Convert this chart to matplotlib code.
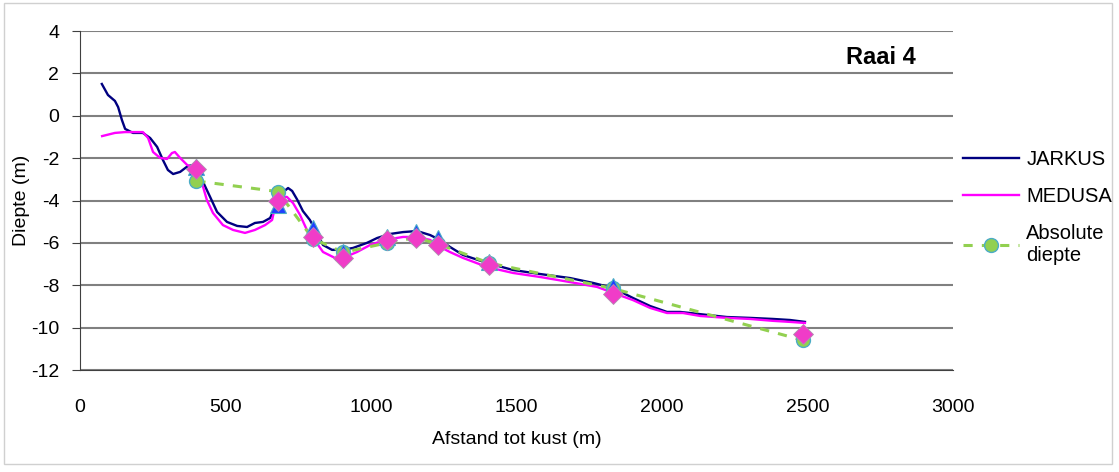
import matplotlib
matplotlib.use("Agg")
import matplotlib.pyplot as plt
from matplotlib.patches import Rectangle

plt.rcParams['font.family'] = ['Liberation Sans', 'DejaVu Sans']
plt.rcParams['axes.unicode_minus'] = False

# JARKUS profile (m from coast, depth m)
jarkus_x = [75, 96, 120, 131, 144, 155, 182, 216, 241, 265, 285, 302, 320, 344, 371, 395,
            423, 447, 471, 505, 540, 574, 601, 629, 653, 670, 680, 698, 715, 729, 746, 766,
            790, 814, 835, 866, 900, 938, 986, 1021, 1065, 1110, 1158, 1203, 1237, 1271,
            1316, 1399, 1488, 1581, 1684, 1763, 1832, 1900, 1959, 2017, 2062, 2096, 2155,
            2223, 2302, 2381, 2440, 2491]
jarkus_y = [1.5, 0.98, 0.70, 0.41, -0.2, -0.62, -0.81, -0.81, -1.05, -1.47, -2.09, -2.56,
            -2.75, -2.65, -2.37, -2.32, -3.13, -3.83, -4.54, -5.01, -5.2, -5.25, -5.06,
            -5.01, -4.83, -4.35, -3.88, -3.6, -3.41, -3.55, -3.95, -4.5, -4.92, -5.53,
            -6.1, -6.33, -6.33, -6.24, -6.0, -5.77, -5.58, -5.49, -5.44, -5.63, -5.86,
            -6.19, -6.57, -6.95, -7.28, -7.47, -7.66, -7.89, -8.13, -8.6, -8.98, -9.26,
            -9.26, -9.31, -9.4, -9.5, -9.54, -9.59, -9.64, -9.73]

# MEDUSA profile
medusa_x = [76, 120, 155, 216, 234, 251, 275, 299, 316, 326, 344, 368, 388, 402, 419, 436,
            457, 491, 526, 567, 601, 636, 660, 670, 687, 711, 732, 756, 780, 801, 835, 876,
            904, 952, 997, 1048, 1110, 1158, 1203, 1237, 1271, 1316, 1399, 1488, 1581,
            1684, 1777, 1832, 1900, 1959, 2017, 2072, 2131, 2223, 2302, 2381, 2440, 2491]
medusa_y = [-0.96, -0.81, -0.77, -0.77, -1.05, -1.71, -1.99, -2.04, -1.76, -1.71, -1.99,
            -2.32, -2.47, -2.5, -3.17, -3.98, -4.59, -5.16, -5.39, -5.53, -5.39, -5.16,
            -4.92, -4.31, -3.83, -3.83, -4.12, -4.68, -5.4, -5.77, -6.43, -6.71, -6.71,
            -6.43, -6.1, -5.86, -5.72, -5.72, -5.86, -6.19, -6.43, -6.71, -7.14, -7.42,
            -7.61, -7.85, -8.08, -8.36, -8.7, -9.07, -9.31, -9.31, -9.45, -9.54, -9.59,
            -9.68, -9.73, -9.78]

# measurement points
punt_x = [400, 680, 800, 905, 1055, 1155, 1230, 1405, 1830, 2485]
absoluut_y = [-3.08, -3.58, -5.8, -6.45, -6.0, -5.75, -6.05, -6.95, -8.15, -10.6]
jarkus_pt_y = [-2.4, -4.2, -5.3, -6.45, -5.7, -5.5, -5.75, -6.9, -8.05]
medusa_pt_y = [-2.5, -4.0, -5.72, -6.72, -5.85, -5.75, -6.1, -7.05, -8.4, -10.3]

fig = plt.figure(figsize=(11.19, 4.72), dpi=100)
ax = fig.add_axes([0.0715, 0.2161, 0.7802, 0.7182])

ax.plot(jarkus_x, jarkus_y, color='#000080', lw=1.7, label='JARKUS', zorder=3)
ax.plot(medusa_x, medusa_y, color='#FF00FF', lw=1.7, label='MEDUSA', zorder=3)
ax.plot(punt_x, absoluut_y, color='#92D050', lw=2.2, ls=(0, (3, 3)), marker='o', ms=10,
        mfc='#92D050', mec='#4BACC6', mew=1, label='Absolute\ndiepte', zorder=4)
ax.plot(punt_x[:len(jarkus_pt_y)], jarkus_pt_y, ls='none', marker='^', ms=11,
        mfc='#1F3FFF', mec='#4BACC6', mew=0.8, zorder=5)
ax.plot(punt_x, medusa_pt_y, ls='none', marker='D', ms=10,
        mfc='#F03CC8', mec='#B090B0', mew=0.6, zorder=6)

ax.set_xlim(0, 3000)
ax.set_ylim(-12, 4)
ax.set_xticks(range(0, 3001, 500))
ax.set_yticks(range(-12, 5, 2))
ax.yaxis.grid(True, color='#808080', lw=1.5)
ax.set_axisbelow(True)
for s in ['top', 'right']:
    ax.spines[s].set_visible(False)
ax.spines['left'].set_color('#404040')
ax.spines['bottom'].set_color('#404040')
ax.tick_params(axis='y', length=6, color='#404040', labelsize=14, pad=9)
ax.tick_params(axis='x', length=0, labelsize=14, pad=21)

ax.set_xlabel('Afstand tot kust (m)', fontsize=14, labelpad=11)
ax.set_ylabel('Diepte (m)', fontsize=14)
ax.yaxis.set_label_coords(-0.057, 0.5)

ax.text(2753, 2.73, 'Raai 4', ha='center', va='center', fontsize=17, fontweight='bold')

fig.legend(loc='center left', bbox_to_anchor=(0.8606, 0.56), frameon=False,
           fontsize=14.5, handlelength=2.8, handletextpad=0.35, labelspacing=0.9,
           borderpad=0, borderaxespad=0)

fig.patches.append(Rectangle((0.004, 0.018), 0.99, 0.976, transform=fig.transFigure,
                             fill=False, edgecolor='#d0d0d0', lw=1))

fig.savefig('out.png', dpi=100)
